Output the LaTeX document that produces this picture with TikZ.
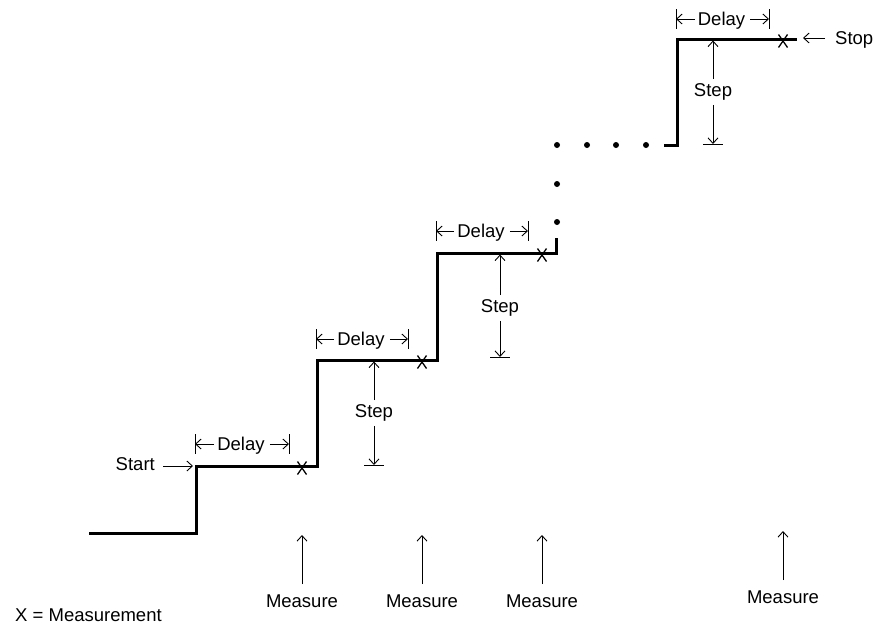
\documentclass[tikz,border=0pt]{standalone}
\usepackage{fontspec}
\setmainfont{Liberation Sans}
\usetikzlibrary{arrows.meta}
\begin{document}
\begin{tikzpicture}[x=1pt,y=-1pt,
  stair/.style={line width=3pt},
  fine/.style={line width=0.9pt},
  arr/.style={fine,-{Straight Barb[length=5.5pt,width=10pt]}},
  lbl/.style={font=\fontsize{18.5}{22}\selectfont, inner sep=0pt, text height=13.3pt, text depth=0pt},
  dotmark/.style={circle, fill, inner sep=0pt, minimum size=6pt},
  xline/.style={line width=1.3pt}]
\useasboundingbox (0,0) rectangle (875,625);

% staircase
\coordinate (s0) at (89,533);
\coordinate (s1) at (196,533);
\coordinate (s2) at (196,466);
\coordinate (s3) at (317,466);
\coordinate (s4) at (317,360);
\coordinate (s5) at (437,360);
\coordinate (s6) at (437,253);
\coordinate (s7) at (556,253);
\coordinate (s8) at (556,238);
\draw[stair] (s0) -- (s1) -- (s2) -- (s3) -- (s4) -- (s5) -- (s6) -- (s7) -- (s8);
\coordinate (t0) at (664,145);
\coordinate (t1) at (677,145);
\coordinate (t2) at (677,39);
\coordinate (t3) at (797,39);
\draw[stair] (t0) -- (t1) -- (t2) -- (t3);

% dots
\foreach \x/\y/\n in {557/222/1, 557/184/2, 557/145/3, 587/145/4, 616/145/5, 646/145/6}
  \node[dotmark] (dot\n) at (\x,\y) {};

% X marks
\foreach \x/\y in {302/468, 422/362, 542/255, 783/41}
  \draw[xline] (\x-4.5,\y-6.5) -- (\x+4.5,\y+6.5) (\x-4.5,\y+6.5) -- (\x+4.5,\y-6.5);

% Delay dimensions
\foreach \l/\r/\y/\n in {195/289/444/1, 316/408/339/2, 436/528/231/3, 676/769/19/4} {
  \coordinate (dl\n) at (\l,\y);
  \coordinate (dr\n) at (\r,\y);
  \draw[fine] (\l,\y-10) -- (\l,\y+10);
  \draw[fine] (\r,\y-10) -- (\r,\y+10);
  \node[lbl] (delay\n) at ({(\l+\r)/2-1},\y) {Delay};
  \draw[arr] ([xshift=-3pt]delay\n.west) -- (dl\n);
  \draw[arr] ([xshift=5pt]delay\n.east) -- (dr\n);
}

% Step dimensions
\foreach \x/\top/\bot/\ty/\n in {374/361.5/465/411/1, 500/254.5/357/306/2, 713/40.5/144/90/3} {
  \coordinate (st\n) at (\x,\top);
  \coordinate (sb\n) at (\x,\bot);
  \draw[fine] (\x-10,\bot) -- (\x+10,\bot);
  \node[lbl] (step\n) at (\x,\ty) {Step};
  \draw[arr] ([yshift=4pt]step\n.north) -- (st\n);
  \draw[arr] ([yshift=-8pt]step\n.south) -- (sb\n);
}

% Measure labels
\foreach \x/\y/\n in {302/601/1, 422/601/2, 542/601/3, 783/597/4} {
  \node[lbl] (meas\n) at (\x,\y) {Measure};
  \coordinate (mt\n) at (\x,\y-66);
  \draw[arr] ([yshift=10pt]meas\n.north) -- (mt\n);
}

% Start / Stop
\node[lbl, anchor=east] (start) at (155,464) {Start};
\coordinate (startend) at (193,466);
\draw[arr] ([xshift=8pt]start.east |- startend) -- (startend);
\node[lbl, anchor=west] (stop) at (835,38) {Stop};
\coordinate (stopend) at (803,38);
\draw[arr] ([xshift=-10pt]stop.west) -- (stopend);

% legend
\node[lbl, anchor=west] (legend) at (15,615) {X = Measurement};
\end{tikzpicture}
\end{document}
